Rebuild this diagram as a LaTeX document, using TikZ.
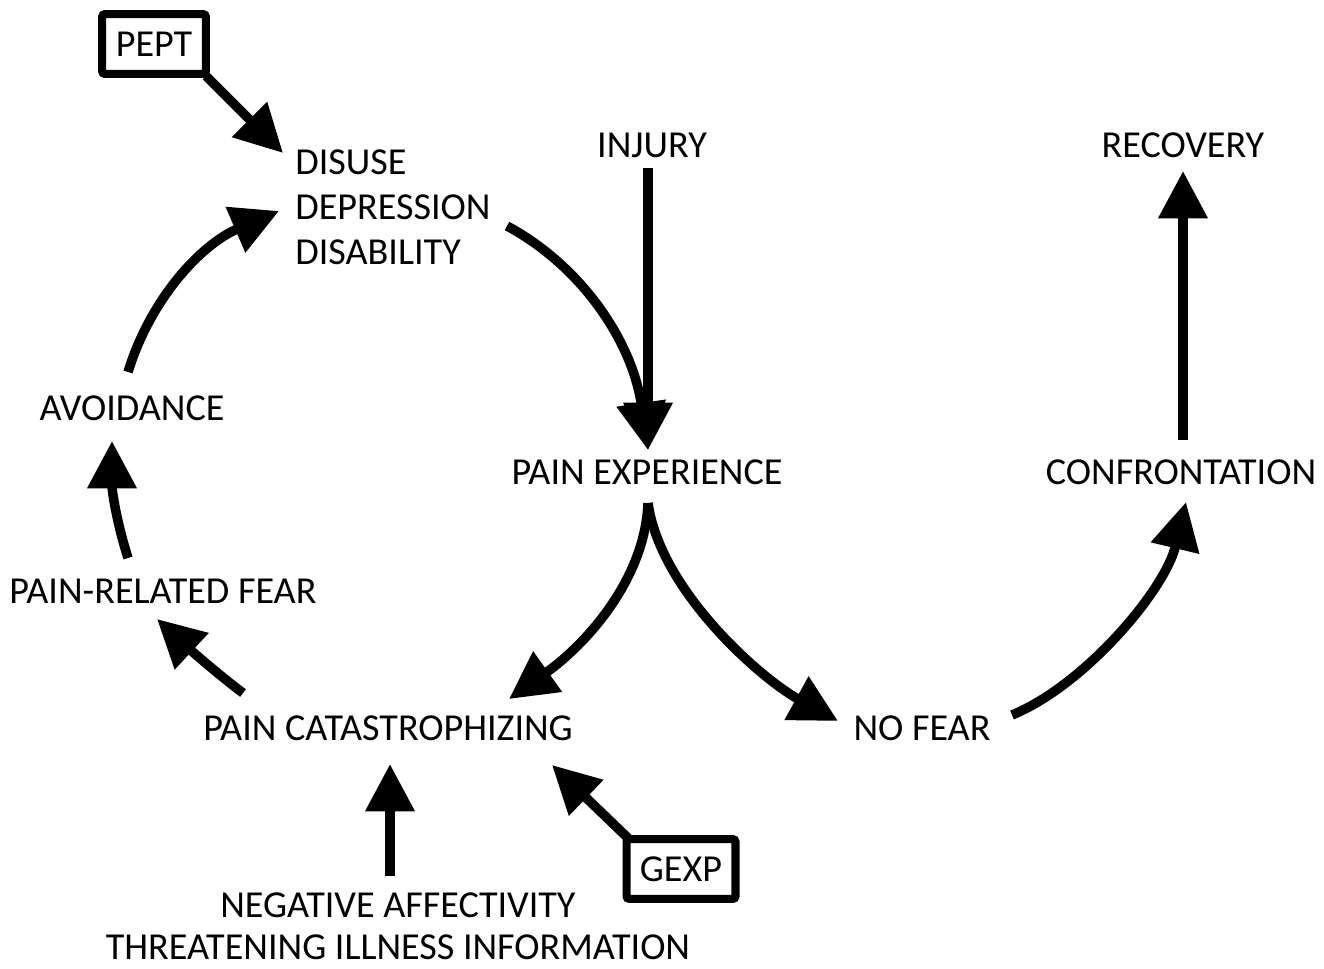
\documentclass[tikz,border=0pt]{standalone}
\usepackage{fontspec}
\setmainfont{Carlito}
\usetikzlibrary{arrows.meta}
\begin{document}
\begin{tikzpicture}[x=0.02cm,y=-0.02cm,
  lbl/.style={inner sep=0pt, anchor=base, font=\fontsize{21.7}{25.6}\selectfont},
  boxed/.style={draw, line width=4.6pt, rounded corners=1.5pt, minimum width=59pt, minimum height=34pt, inner sep=0pt, font=\fontsize{21.7}{25.6}\selectfont},
  arr/.style={line width=5.4pt, -{Triangle[length=27pt,width=27pt]}}]
\useasboundingbox (0,0) rectangle (1324,968);
% texts
\node[boxed] (pept) at (154,44) {PEPT};
\node[boxed, minimum width=62pt] (gexp) at (681,869) {GEXP};
\node[lbl, anchor=west, align=left] (dis) at (295,207) {DISUSE\\DEPRESSION\\DISABILITY};
\node[lbl] (inj) at (652,157) {INJURY};
\node[lbl] (rec) at (1183,157) {RECOVERY};
\node[lbl] (avo) at (132,420) {AVOIDANCE};
\node[lbl] (pex) at (647,484) {PAIN EXPERIENCE};
\node[lbl] (con) at (1181,484) {CONFRONTATION};
\node[lbl] (prf) at (163,603) {PAIN-RELATED FEAR};
\node[lbl] (pca) at (388,740) {PAIN CATASTROPHIZING};
\node[lbl] (nof) at (922,740) {NO FEAR};
\node[lbl] (neg) at (398,917) {NEGATIVE AFFECTIVITY};
\node[lbl] (thr) at (398,959) {THREATENING ILLNESS INFORMATION};
% connector end points
\coordinate (peptA) at (206,76);
\coordinate (disT1) at (283,153);
\coordinate (avoS) at (128,372);
\coordinate (disT2) at (279,211);
\coordinate (disS) at (507,226);
\coordinate (injS) at (648,168);
\coordinate (pexT) at (648,450);
\coordinate (pexS) at (648,503);
\coordinate (pcaT1) at (509,699);
\coordinate (nofT) at (838,721);
\coordinate (nofS) at (1012,715);
\coordinate (conT) at (1186,502);
\coordinate (conS) at (1183,440);
\coordinate (recT) at (1183,171);
\coordinate (prfS) at (128,558);
\coordinate (avoT) at (112,441);
\coordinate (pcaS) at (243,693);
\coordinate (prfT) at (157,619);
\coordinate (negS) at (390,876);
\coordinate (pcaT2) at (390,764);
\coordinate (gexpA) at (628,838);
\coordinate (pcaT3) at (552,765);
% connectors
\draw[arr] (peptA) -- (disT1);
\draw[arr] (avoS) .. controls (150,300) and (200,245) .. (disT2);
\draw[arr] (disS) .. controls (580,265) and (632,340) .. (pexT);
\draw[arr] (injS) -- (pexT);
\draw[arr] (pexS) .. controls (645,580) and (585,645) .. (pcaT1);
\draw[arr] (pexS) .. controls (660,590) and (760,678) .. (nofT);
\draw[arr] (nofS) .. controls (1085,685) and (1165,590) .. (conT);
\draw[arr] (conS) -- (recT);
\draw[arr] (prfS) .. controls (116,520) and (112,490) .. (avoT);
\draw[arr] (pcaS) .. controls (215,672) and (185,645) .. (prfT);
\draw[arr] (negS) -- (pcaT2);
\draw[arr] (gexpA) -- (pcaT3);
\end{tikzpicture}
\end{document}
